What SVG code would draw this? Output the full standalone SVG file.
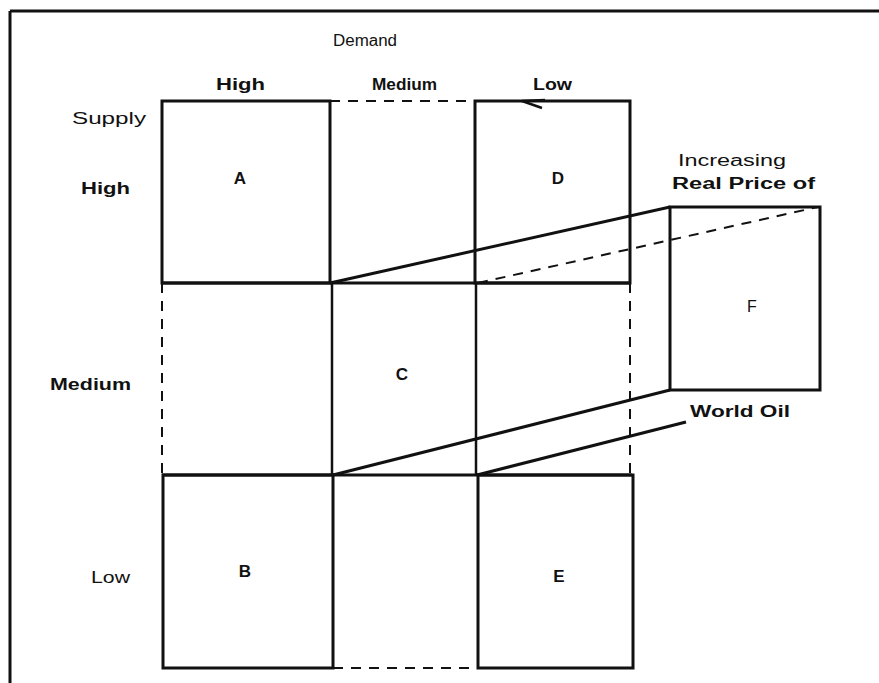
<svg xmlns="http://www.w3.org/2000/svg" width="879" height="683" viewBox="0 0 879 683">
<style>
text{font-family:"Liberation Sans",Arial,sans-serif;font-size:16px;fill:#111;}
.b{font-weight:bold;}
.lbl{font-size:17px;font-weight:bold;text-anchor:middle;}
.s{stroke:#111;stroke-width:3;fill:none;}
.t{stroke:#111;stroke-width:2.5;fill:none;}
.d{stroke:#111;stroke-width:2;fill:none;stroke-dasharray:10,8;}
</style>
<rect width="879" height="683" fill="#fff"/>
<g id="frame">
<path class="s" d="M10 11 H879 M10 11 V683"/>
</g>
<g id="labels">
<text x="333" y="46" textLength="64" lengthAdjust="spacingAndGlyphs">Demand</text>
<text class="b" x="216" y="90" font-size="17" textLength="49" lengthAdjust="spacingAndGlyphs">High</text>
<text class="b" x="372" y="90" textLength="65" lengthAdjust="spacingAndGlyphs">Medium</text>
<text x="533" y="90" font-weight="600" font-size="17" textLength="39" lengthAdjust="spacingAndGlyphs">Low</text>
<text x="72" y="124" font-size="18" textLength="74" lengthAdjust="spacingAndGlyphs">Supply</text>
<text class="b" x="81" y="194" font-size="17" textLength="49" lengthAdjust="spacingAndGlyphs">High</text>
<text class="b" x="50" y="390" font-size="17" textLength="81" lengthAdjust="spacingAndGlyphs">Medium</text>
<text x="91" y="583" font-size="17" textLength="39" lengthAdjust="spacingAndGlyphs">Low</text>
<text x="678" y="166" font-size="19" textLength="108" lengthAdjust="spacingAndGlyphs">Increasing</text>
<text x="672" y="189" font-size="19" font-weight="600" textLength="143" lengthAdjust="spacingAndGlyphs">Real Price of</text>
<text x="690" y="417" font-size="19" font-weight="600" textLength="100" lengthAdjust="spacingAndGlyphs">World Oil</text>
</g>
<g id="grid">
<path class="d" d="M330 101 H475"/>
<path class="d" d="M162 283 V475 M630 283 V475"/>
<path class="d" d="M333 668 H478"/>
<path class="s" d="M162 283 H630 M162 475 H632"/>
<path class="t" d="M332 283 V475 M476 283 V475"/>
</g>
<g id="node-A">
<rect class="s" x="162" y="101" width="168" height="182"/>
<text class="lbl" x="240" y="184">A</text>
</g>
<g id="node-D">
<rect class="s" x="475" y="101" width="155" height="182"/>
<path class="t" d="M545 100 L522 101 L542 108"/>
<text class="lbl" x="558" y="184" font-size="18">D</text>
</g>
<g id="node-C">
<text class="lbl" x="402" y="380">C</text>
</g>
<g id="node-B">
<rect class="s" x="163" y="475" width="170" height="193"/>
<text class="lbl" x="245" y="577">B</text>
</g>
<g id="node-E">
<rect class="s" x="478" y="475" width="155" height="193"/>
<text class="lbl" x="559" y="582">E</text>
</g>
<g id="node-F">
<rect class="s" x="670" y="207" width="150" height="183"/>
<text x="752" y="312" text-anchor="middle" font-size="17">F</text>
</g>
<g id="connectors">
<path class="s" d="M330 283 L670 207"/>
<path class="d" d="M478 283 L818 207"/>
<path class="s" d="M333 475 L670 390"/>
<path class="s" d="M477 475 L686 422"/>
</g>
</svg>
